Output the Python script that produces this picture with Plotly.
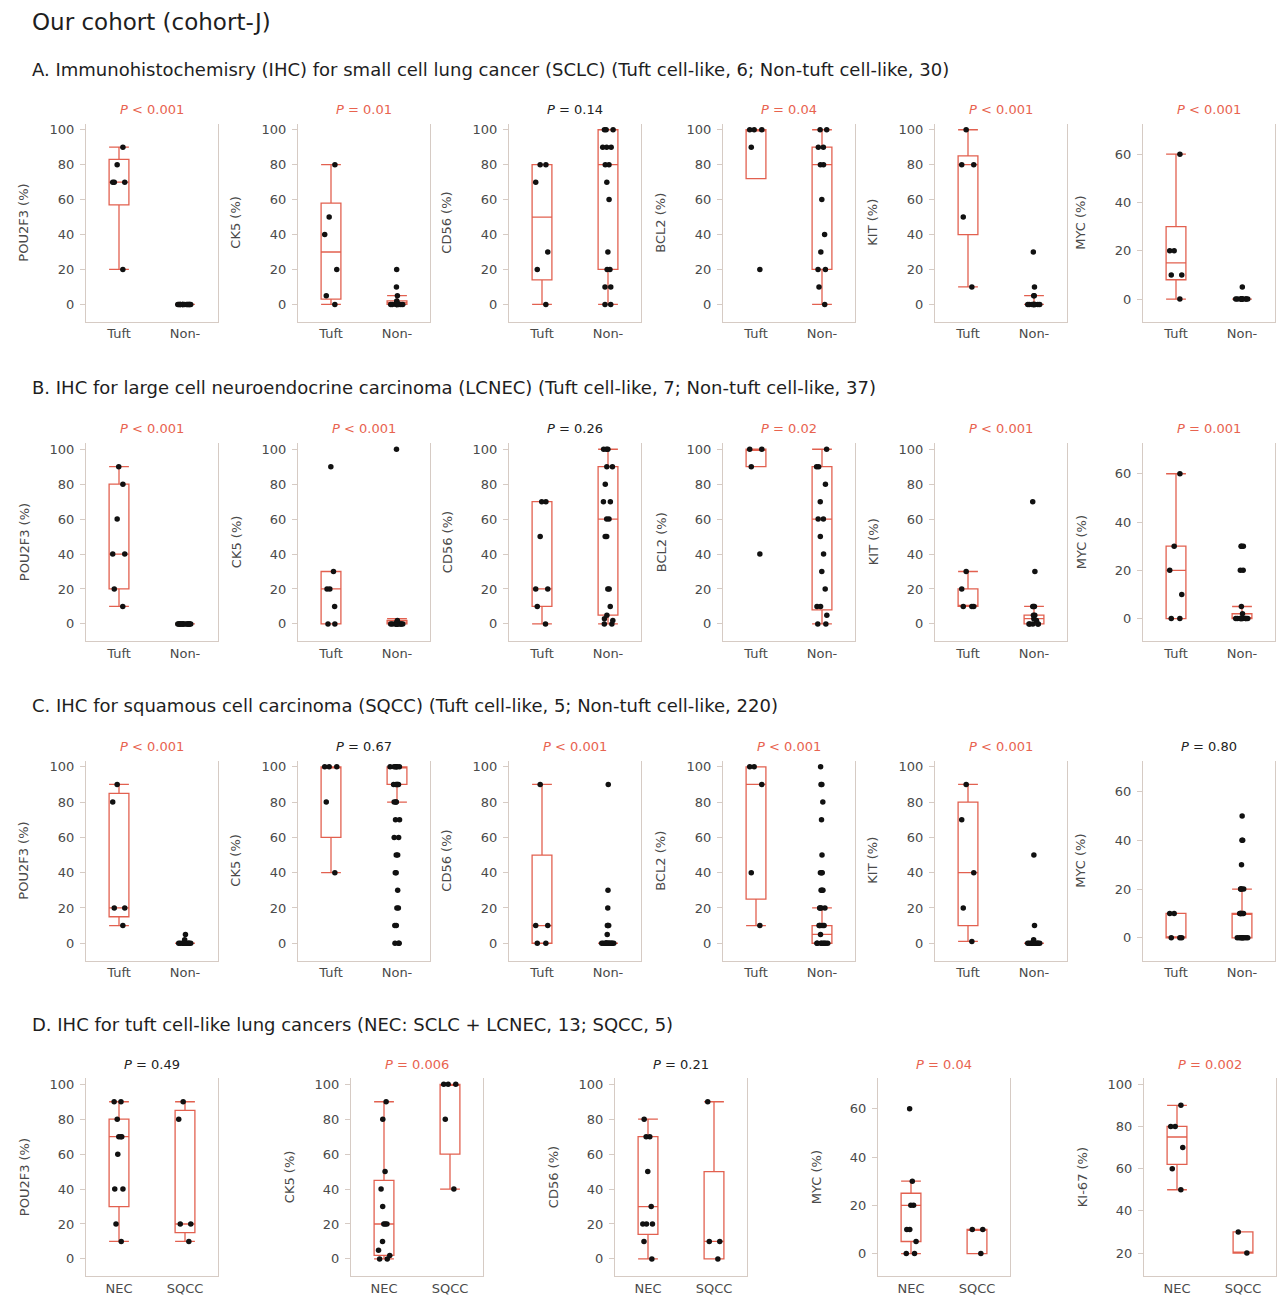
import plotly.graph_objects as go

# ---------------------------------------------------------------- data
# Box statistics are [lower whisker, Q1, median, Q3, upper whisker]

# A. SCLC: tuft cell-like vs non-tuft cell-like
A_markers = ["POU2F3", "CK5", "CD56", "BCL2", "KIT", "MYC"]
A_pvalues = ["&lt; 0.001", "= 0.01", "= 0.14", "= 0.04", "&lt; 0.001", "&lt; 0.001"]
A_significant = [True, True, False, True, True, True]
A_tuft_box = [[20, 57, 70, 83, 90], [0, 3, 30, 58, 80], [0, 14, 50, 80, 80],
              [72, 72, 100, 100, 100], [10, 40, 80, 85, 100], [0, 8, 15, 30, 60]]
A_non_box = [[0, 0, 0, 0, 0], [0, 0, 1, 2, 5], [0, 20, 80, 100, 100],
             [0, 20, 80, 90, 100], [0, 0, 0, 0, 5], [0, 0, 0, 0, 0]]
A_tuft_points = [
    [90, 80, 70, 70, 70, 20],
    [80, 50, 40, 20, 5, 0],
    [80, 80, 70, 30, 20, 0],
    [100, 100, 100, 90, 20],
    [100, 80, 80, 50, 10],
    [60, 20, 20, 10, 10, 0],
]
A_non_points = [
    [0, 0, 0, 0, 0, 0, 0, 0, 0, 0, 0, 0, 0, 0, 0],
    [20, 10, 5, 2, 1, 1, 0, 0, 0, 0, 0, 0, 0, 0, 0],
    [100, 100, 100, 90, 90, 90, 80, 80, 70, 60, 30, 20, 20, 10, 10, 0, 0],
    [100, 100, 90, 90, 80, 80, 60, 40, 30, 20, 20, 10, 0],
    [30, 10, 5, 5, 0, 0, 0, 0, 0, 0, 0, 0, 0, 0],
    [5, 0, 0, 0, 0, 0, 0, 0, 0, 0, 0, 0, 0],
]

# B. LCNEC: tuft cell-like vs non-tuft cell-like
B_markers = ["POU2F3", "CK5", "CD56", "BCL2", "KIT", "MYC"]
B_pvalues = ["&lt; 0.001", "&lt; 0.001", "= 0.26", "= 0.02", "&lt; 0.001", "= 0.001"]
B_significant = [True, True, False, True, True, True]
B_tuft_box = [[10, 20, 40, 80, 90], [0, 0, 20, 30, 30], [0, 10, 20, 70, 70],
              [90, 90, 100, 100, 100], [10, 10, 10, 20, 30], [0, 0, 20, 30, 60]]
B_non_box = [[0, 0, 0, 0, 0], [0, 0, 1, 2, 3], [0, 5, 60, 90, 100],
             [0, 8, 60, 90, 100], [0, 0, 3, 5, 10], [0, 0, 0, 2, 5]]
B_tuft_points = [
    [90, 80, 60, 40, 40, 20, 10],
    [90, 30, 20, 20, 10, 0, 0],
    [70, 70, 50, 20, 20, 10, 0],
    [100, 100, 90, 40],
    [30, 20, 10, 10, 10],
    [60, 30, 20, 10, 0, 0],
]
B_non_points = [
    [0, 0, 0, 0, 0, 0, 0, 0, 0, 0, 0, 0, 0, 0, 0],
    [100, 2, 1, 0, 0, 0, 0, 0, 0, 0, 0, 0, 0, 0],
    [100, 100, 100, 90, 90, 80, 70, 70, 60, 60, 50, 50, 20, 20, 10, 5, 3, 2, 0, 0],
    [100, 90, 90, 80, 70, 60, 60, 50, 40, 30, 20, 10, 10, 5, 0, 0],
    [70, 30, 10, 10, 10, 5, 5, 3, 2, 0, 0, 0, 0, 0],
    [30, 30, 30, 20, 20, 5, 2, 0, 0, 0, 0, 0, 0, 0, 0, 0, 0],
]

# C. SQCC: tuft cell-like vs non-tuft cell-like
C_markers = ["POU2F3", "CK5", "CD56", "BCL2", "KIT", "MYC"]
C_pvalues = ["&lt; 0.001", "= 0.67", "&lt; 0.001", "&lt; 0.001", "&lt; 0.001", "= 0.80"]
C_significant = [True, False, True, True, True, False]
C_tuft_box = [[10, 15, 20, 85, 90], [40, 60, 100, 100, 100], [0, 0, 10, 50, 90],
              [10, 25, 90, 100, 100], [1, 10, 40, 80, 90], [0, 0, 0, 10, 10]]
C_non_box = [[0, 0, 0, 0, 0], [80, 90, 100, 100, 100], [0, 0, 0, 0, 0],
             [0, 0, 5, 10, 20], [0, 0, 0, 0, 0], [0, 0, 10, 10, 20]]
C_tuft_points = [
    [90, 80, 20, 20, 10],
    [100, 100, 100, 80, 40],
    [90, 10, 10, 0, 0],
    [100, 100, 90, 40, 10],
    [90, 70, 40, 20, 1],
    [10, 10, 0, 0, 0],
]
C_non_points = [
    [5, 2, 0, 0, 0, 0, 0, 0, 0, 0, 0, 0, 0, 0, 0, 0],
    [100, 100, 100, 100, 100, 100, 90, 90, 90, 90, 90, 80, 80, 80, 70, 70,
     60, 60, 50, 50, 40, 40, 30, 20, 20, 10, 10, 0, 0, 0],
    [90, 30, 20, 10, 10, 10, 5, 0, 0, 0, 0, 0, 0, 0, 0, 0, 0, 0, 0, 0, 0],
    [100, 90, 90, 80, 70, 50, 40, 40, 40, 30, 30, 30, 20, 20, 20, 20,
     10, 10, 10, 10, 10, 5, 0, 0, 0, 0, 0, 0, 0, 0],
    [50, 10, 2, 0, 0, 0, 0, 0, 0, 0, 0, 0, 0, 0, 0, 0, 0],
    [50, 40, 40, 30, 20, 20, 20, 20, 10, 10, 10, 10, 10, 10,
     0, 0, 0, 0, 0, 0, 0, 0],
]

# D. Tuft cell-like cancers: NEC vs SQCC
D_markers = ["POU2F3", "CK5", "CD56", "MYC", "KI-67"]
D_pvalues = ["= 0.49", "= 0.006", "= 0.21", "= 0.04", "= 0.002"]
D_significant = [False, True, False, True, True]
D_nec_box = [[10, 30, 70, 80, 90], [0, 2, 20, 45, 90], [0, 14, 30, 70, 80],
             [0, 5, 20, 25, 30], [50, 62, 75, 80, 90]]
D_sqcc_box = [[10, 15, 20, 85, 90], [40, 60, 100, 100, 100], [0, 0, 10, 50, 90],
              [0, 0, 10, 10, 10], [20, 20, 20, 30, 30]]
D_nec_points = [
    [90, 90, 80, 70, 70, 70, 60, 40, 40, 20, 10],
    [90, 80, 50, 40, 30, 20, 20, 20, 10, 5, 2, 0, 0],
    [80, 70, 70, 50, 30, 20, 20, 20, 10, 0],
    [60, 30, 20, 20, 10, 10, 5, 0, 0],
    [90, 80, 80, 70, 60, 50],
]
D_sqcc_points = [
    [90, 80, 20, 20, 10],
    [100, 100, 100, 80, 40],
    [90, 10, 10, 0],
    [10, 10, 0],
    [30, 20],
]

GROUPS_TUFT = ["Tuft", "Non-"]
GROUPS_D = ["NEC", "SQCC"]

# ---------------------------------------------------------------- style
W, H = 1277, 1298
BOX_RED = "#e2604f"
P_RED = "#e8634f"
AXIS_COL = "#d6cbc4"
TEXT_COL = "#4a4a4a"
FONT = "DejaVu Sans"
HEAD_FONT = "DejaVu Sans"

rows = [
    dict(top=122, bottom=320, lefts=[86, 298, 509, 723, 935, 1143], ptext=108,
         markers=A_markers, pv=A_pvalues, sig=A_significant,
         box1=A_tuft_box, box2=A_non_box, pts1=A_tuft_points, pts2=A_non_points,
         groups=GROUPS_TUFT),
    dict(top=442, bottom=640, lefts=[86, 298, 509, 723, 935, 1143], ptext=427,
         markers=B_markers, pv=B_pvalues, sig=B_significant,
         box1=B_tuft_box, box2=B_non_box, pts1=B_tuft_points, pts2=B_non_points,
         groups=GROUPS_TUFT),
    dict(top=760, bottom=960, lefts=[86, 298, 509, 723, 935, 1143], ptext=746,
         markers=C_markers, pv=C_pvalues, sig=C_significant,
         box1=C_tuft_box, box2=C_non_box, pts1=C_tuft_points, pts2=C_non_points,
         groups=GROUPS_TUFT),
    dict(top=1078, bottom=1276, lefts=[86, 351, 615, 878, 1144], ptext=1064,
         markers=D_markers, pv=D_pvalues, sig=D_significant,
         box1=D_nec_box, box2=D_sqcc_box, pts1=D_nec_points, pts2=D_sqcc_points,
         groups=GROUPS_D),
]
PANEL_W = 132

headings = [
    (68, "A. Immunohistochemisry (IHC) for small cell lung cancer (SCLC) (Tuft cell-like, 6; Non-tuft cell-like, 30)"),
    (386, "B. IHC for large cell neuroendocrine carcinoma (LCNEC) (Tuft cell-like, 7; Non-tuft cell-like, 37)"),
    (705, "C. IHC for squamous cell carcinoma (SQCC) (Tuft cell-like, 5; Non-tuft cell-like, 220)"),
    (1024, "D. IHC for tuft cell-like lung cancers (NEC: SCLC + LCNEC, 13; SQCC, 5)"),
]


def y_scale(marker):
    if marker == "MYC":
        return [-9.3, 72.6], [0, 20, 40, 60]
    if marker == "KI-67":
        return [9.1, 102.8], [20, 40, 60, 80, 100]
    return [-9.8, 103.4], [0, 20, 40, 60, 80, 100]


fig = go.Figure()
layout_axes = {}
annotations = []

k = 0
for row in rows:
    for j, marker in enumerate(row["markers"]):
        k += 1
        xa = "x" if k == 1 else f"x{k}"
        ya = "y" if k == 1 else f"y{k}"
        left = row["lefts"][j]
        right = left + PANEL_W
        yr, tv = y_scale(marker)

        b1, b2 = row["box1"][j], row["box2"][j]
        # boxes with whisker caps
        fig.add_trace(go.Box(
            x=[0, 1],
            lowerfence=[b1[0], b2[0]], q1=[b1[1], b2[1]], median=[b1[2], b2[2]],
            q3=[b1[3], b2[3]], upperfence=[b1[4], b2[4]],
            width=0.3, whiskerwidth=1, boxpoints=False,
            line=dict(color=BOX_RED, width=1.3), fillcolor="rgba(0,0,0,0)",
            showlegend=False, hoverinfo="skip", xaxis=xa, yaxis=ya,
        ))
        # individual cases, jittered around each group
        for pos, pts in ((0, row["pts1"][j]), (1, row["pts2"][j])):
            fig.add_trace(go.Box(
                x=[pos] * len(pts), y=pts,
                width=0.3, boxpoints="all", jitter=0.75, pointpos=0,
                line=dict(color="rgba(0,0,0,0)", width=0), fillcolor="rgba(0,0,0,0)",
                marker=dict(color="#111111", size=5.5, line=dict(width=0)),
                showlegend=False, hoverinfo="skip", xaxis=xa, yaxis=ya,
            ))

        layout_axes["xaxis" if k == 1 else f"xaxis{k}"] = dict(
            domain=[left / W, right / W], anchor=ya, range=[-0.5, 1.5],
            tickmode="array", tickvals=[0, 1], ticktext=row["groups"],
            showline=True, linecolor=AXIS_COL, linewidth=1, ticks="",
            showgrid=False, zeroline=False,
            tickfont=dict(family=FONT, size=13, color=TEXT_COL),
        )
        layout_axes["yaxis" if k == 1 else f"yaxis{k}"] = dict(
            domain=[1 - row["bottom"] / H, 1 - row["top"] / H], anchor=xa,
            range=yr, tickmode="array", tickvals=tv,
            showline=True, mirror=True, linecolor=AXIS_COL, linewidth=1,
            ticks="outside", ticklen=5, tickcolor=AXIS_COL, tickwidth=1,
            ticklabelstandoff=3,
            showgrid=False, zeroline=False,
            tickfont=dict(family=FONT, size=13, color=TEXT_COL),
        )
        # y-axis title
        annotations.append(dict(
            text=f"{marker} (%)", textangle=-90, showarrow=False,
            xref="paper", yref="paper",
            x=(left - 62) / W, y=1 - (row["top"] + row["bottom"]) / 2 / H,
            xanchor="center", yanchor="middle",
            font=dict(family=FONT, size=13, color=TEXT_COL),
        ))
        # P value
        annotations.append(dict(
            text=f"<i>P</i> {row['pv'][j]}", showarrow=False,
            xref="paper", yref="paper",
            x=(left + right) / 2 / W, y=1 - row["ptext"] / H,
            xanchor="center", yanchor="middle",
            font=dict(family=FONT, size=13,
                      color=P_RED if row["sig"][j] else "#222222"),
        ))

annotations.append(dict(
    text="Our cohort (cohort-J)", showarrow=False, xref="paper", yref="paper",
    x=30 / W, y=1 - 20 / H, xanchor="left", yanchor="middle",
    font=dict(family=HEAD_FONT, size=23, color="#1e1e1e"),
))
for yy, txt in headings:
    annotations.append(dict(
        text=txt, showarrow=False, xref="paper", yref="paper",
        x=30 / W, y=1 - yy / H, xanchor="left", yanchor="middle",
        font=dict(family=HEAD_FONT, size=18, color="#1e1e1e"),
    ))

fig.update_layout(
    width=W, height=H, margin=dict(l=0, r=0, t=0, b=0),
    paper_bgcolor="white", plot_bgcolor="white",
    boxmode="overlay", showlegend=False,
    annotations=annotations, **layout_axes,
)

fig.write_html("out.html")
